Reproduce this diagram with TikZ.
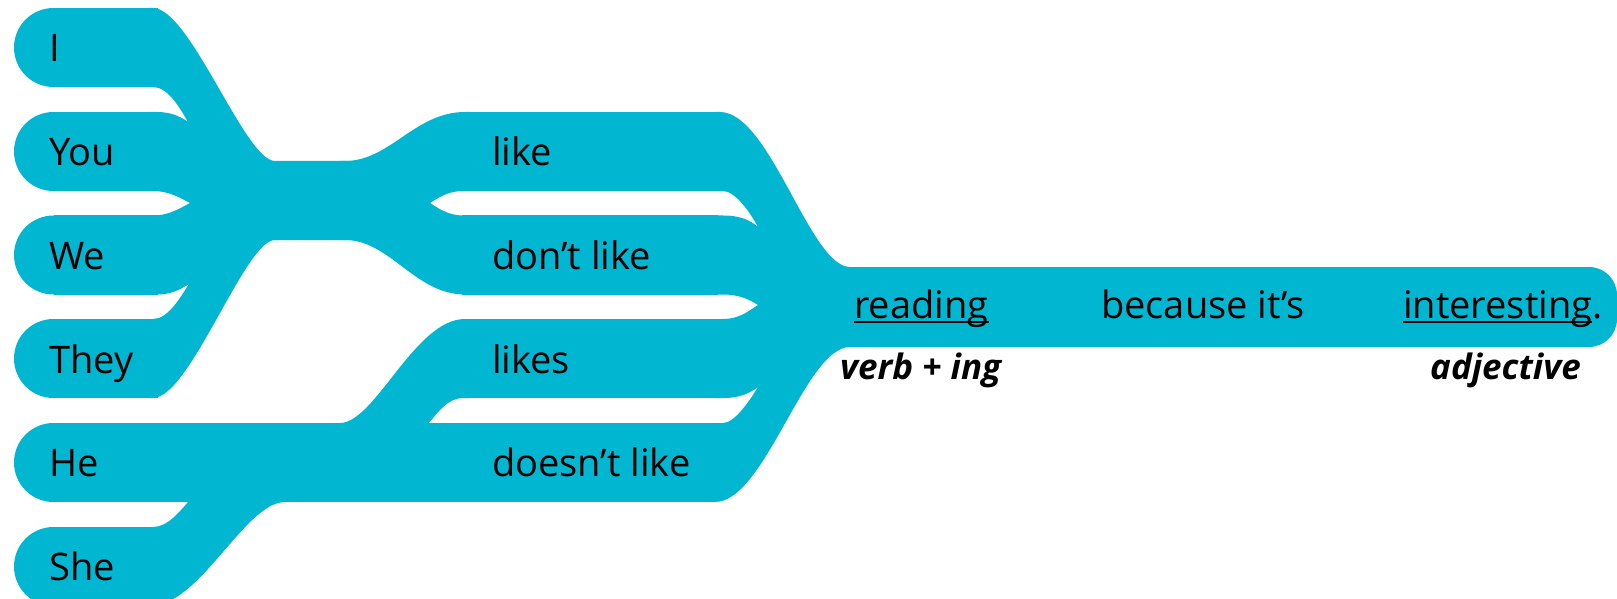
\documentclass[tikz,border=0pt]{standalone}
\usepackage{fontspec}
\setmainfont{Open Sans}
\definecolor{blu}{RGB}{0,182,208}
\begin{document}
\begin{tikzpicture}[x=1bp,y=-1bp,
  blob/.style={fill=blu},
  word/.style={anchor=base west,inner sep=0pt,text=black,font=\fontsize{38bp}{44bp}\selectfont},
  tag/.style={anchor=base west,inner sep=0pt,text=black,font=\fontsize{35bp}{40bp}\selectfont\bfseries\itshape},
  uline/.style={line width=2.5bp,draw=black}]
\useasboundingbox (0,0) rectangle (1617,599);
% subject bars
\foreach \t in {8,112,215.5,319,527}{
  \fill[blob] (53.5,\t+39.5) circle[radius=39.5];
  \fill[blob] (53.5,\t) rectangle (158,\t+79);
}
% He / doesn't like bar
\fill[blob] (53.5,462.5) circle[radius=39.5];
\fill[blob] (53.5,423) rectangle (717,502);
% verb bars
\fill[blob] (462,112) rectangle (718,191);
\fill[blob] (462,215.5) rectangle (718,294.5);
\fill[blob] (462,319) rectangle (718,398);
% sentence bar
\fill[blob,rounded corners=28bp] (845,267) rectangle (1617,347);
% left merge
\fill[blob] (150,8) -- (153,8) .. controls (190,8) and (245,161) .. (275,161) -- (350,161)
  -- (350,240) -- (275,240) .. controls (245,240) and (190,398) .. (153,398) -- (150,398)
  -- (150,319) -- (153,319) .. controls (168,319) and (180,298) .. (189,284)
  .. controls (180,290) and (170,294.5) .. (157,294.5) -- (150,294.5)
  -- (150,215.5) -- (153,215.5) .. controls (170,215.5) and (182,207) .. (190,203)
  .. controls (182,199) and (170,191) .. (153,191) -- (150,191)
  -- (150,112) -- (157,112) .. controls (170,112) and (180,116) .. (188,122)
  .. controls (180,108) and (168,87) .. (153,87) -- (150,87) -- cycle;
% trunk to like / don't like
\fill[blob] (340,161) -- (345,161) .. controls (390,161) and (415,112) .. (465,112) -- (470,112)
  -- (470,191) -- (463,191) .. controls (448,191) and (438,198) .. (430,203)
  .. controls (438,208) and (448,215.5) .. (463,215.5) -- (470,215.5)
  -- (470,294.5) -- (465,294.5) .. controls (415,294.5) and (390,240) .. (345,240) -- (340,240) -- cycle;
% He to likes
\fill[blob] (335,423) -- (340,423) .. controls (375,423) and (415,319) .. (465,319) -- (470,319)
  -- (470,398) -- (463,398) .. controls (448,398) and (438,412) .. (428,424) -- (335,424) -- cycle;
% She to He
\fill[blob] (150,527) -- (153,527) .. controls (168,527) and (180,511) .. (189,501) -- (290,501)
  -- (290,502) -- (285,502) .. controls (245,502) and (200,606) .. (150,606) -- cycle;
% right merge
\fill[blob] (715,112) -- (720,112) .. controls (770,112) and (810,267) .. (850,267) -- (880,267)
  -- (880,347) -- (850,347) .. controls (805,347) and (765,502) .. (715,502)
  -- (715,423) -- (723,423) .. controls (735,423) and (750,400) .. (758,387)
  .. controls (750,393) and (740,398) .. (723,398) -- (715,398)
  -- (715,319) -- (723,319) .. controls (740,319) and (750,310) .. (758,305)
  .. controls (750,300) and (740,294.5) .. (723,294.5) -- (715,294.5)
  -- (715,215.5) -- (723,215.5) .. controls (740,215.5) and (750,220) .. (758,227)
  .. controls (750,212) and (735,191) .. (723,191) -- (715,191) -- cycle;
% words
\node[word] (wI) at (49,62) {I};
\node[word] (wYou) at (49,165.7) {You};
\node[word] (wWe) at (49,269.4) {We};
\node[word] (wThey) at (49,373.1) {They};
\node[word] (wHe) at (49,476.8) {He};
\node[word] (wShe) at (49,580.5) {She};
\node[word] (vlike) at (492,165.7) {like};
\node[word] (vdont) at (492,269.4) {don’t like};
\node[word] (vlikes) at (492,373.1) {likes};
\node[word] (vdoesnt) at (492,476.8) {doesn’t like};
\node[word] (reading) at (854,318) {reading};
\node[word] (because) at (1101,318) {because it’s};
\node[word] (interesting) at (1403,318) {interesting};
\node[word,anchor=base west] (dot) at (interesting.base east) {.};
\draw[uline] ([yshift=-4bp]reading.base west) -- ([yshift=-4bp]reading.base east);
\draw[uline] ([yshift=-4bp]interesting.base west) -- ([yshift=-4bp]interesting.base east);
\node[tag] (verbing) at (840,379) {verb + ing};
\node[tag] (adj) at (1430,379) {adjective};
\end{tikzpicture}
\end{document}
